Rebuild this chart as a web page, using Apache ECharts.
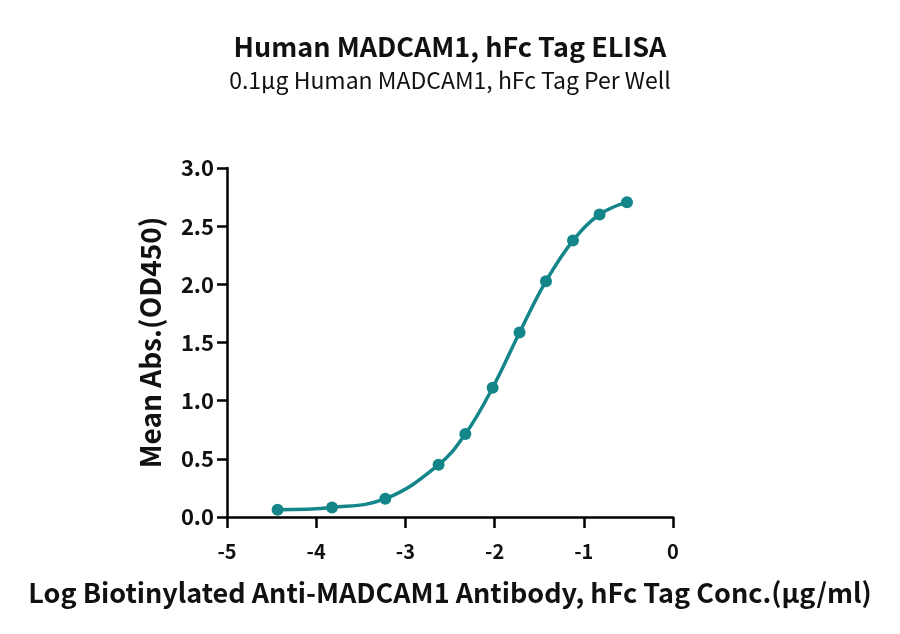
<!DOCTYPE html>
<html>
<head>
<meta charset="utf-8">
<script src="https://cdn.jsdelivr.net/npm/echarts@6/dist/echarts.min.js"></script>
<style>
html,body{margin:0;padding:0;background:#fff;}
#main{width:900px;height:634px;}
</style>
</head>
<body>
<div id="main"></div>
<script>
var logConc = [-4.433, -3.823, -3.225, -2.628, -2.328, -2.022, -1.720, -1.424, -1.121, -0.823, -0.516];
var meanAbs = [0.063, 0.082, 0.157, 0.449, 0.713, 1.111, 1.586, 2.027, 2.376, 2.600, 2.706];
var xTicks = [-5, -4, -3, -2, -1, 0];
var yTicks = ['0.0', '0.5', '1.0', '1.5', '2.0', '2.5', '3.0'];

var FONT = '"Noto Sans CJK SC", "Noto Sans", sans-serif';
var TEAL = '#14868a';
var chart = echarts.init(document.getElementById('main'));
var pts = logConc.map(function (x, i) { return [x, meanAbs[i]]; });
chart.setOption({
  backgroundColor: '#fff',
  animation: false,
  title: [
    {text: 'Human MADCAM1, hFc Tag ELISA', left: 'center', top: 28,
     textStyle: {fontFamily: FONT, fontWeight: 'bold', fontSize: 27, color: '#111'}},
    {text: '0.1μg Human MADCAM1, hFc Tag Per Well', left: 'center', top: 64,
     textStyle: {fontFamily: FONT, fontWeight: 'normal', fontSize: 23, color: '#111'}}
  ],
  grid: {left: 227, right: 227, top: 168, bottom: 117, containLabel: false},
  xAxis: {
    type: 'value', min: -5, max: 0, interval: 1,
    name: 'Log Biotinylated Anti-MADCAM1 Antibody, hFc Tag Conc.(μg/ml)',
    nameLocation: 'middle', nameGap: 62,
    nameTextStyle: {fontFamily: FONT, fontWeight: 'bold', fontSize: 27, color: '#111'},
    axisLine: {show: true, onZero: false, lineStyle: {color: '#000', width: 2.5}},
    axisTick: {show: true, length: 11, inside: false, lineStyle: {color: '#000', width: 2.5}},
    axisLabel: {fontFamily: FONT, fontWeight: 'bold', fontSize: 20, color: '#111', margin: 24,
      formatter: function (v) { return xTicks.indexOf(v) >= 0 ? String(v) : ''; }},
    splitLine: {show: false}
  },
  yAxis: {
    type: 'value', min: 0, max: 3, interval: 0.5,
    name: 'Mean Abs.(OD450)',
    nameLocation: 'middle', nameGap: 63,
    nameTextStyle: {fontFamily: FONT, fontWeight: 'bold', fontSize: 28, color: '#111'},
    axisLine: {show: true, onZero: false, lineStyle: {color: '#000', width: 2.5}},
    axisTick: {show: true, length: 10, lineStyle: {color: '#000', width: 2.5}},
    axisLabel: {fontFamily: FONT, fontWeight: 'bold', fontSize: 22, color: '#111', margin: 13,
      formatter: function (v) { return yTicks[Math.round(v * 2)]; }},
    splitLine: {show: false}
  },
  series: [{
    type: 'line',
    data: pts,
    smooth: 0.4,
    symbol: 'circle',
    symbolSize: 12,
    itemStyle: {color: TEAL},
    lineStyle: {color: TEAL, width: 3.5}
  }]
});
</script>
</body>
</html>
